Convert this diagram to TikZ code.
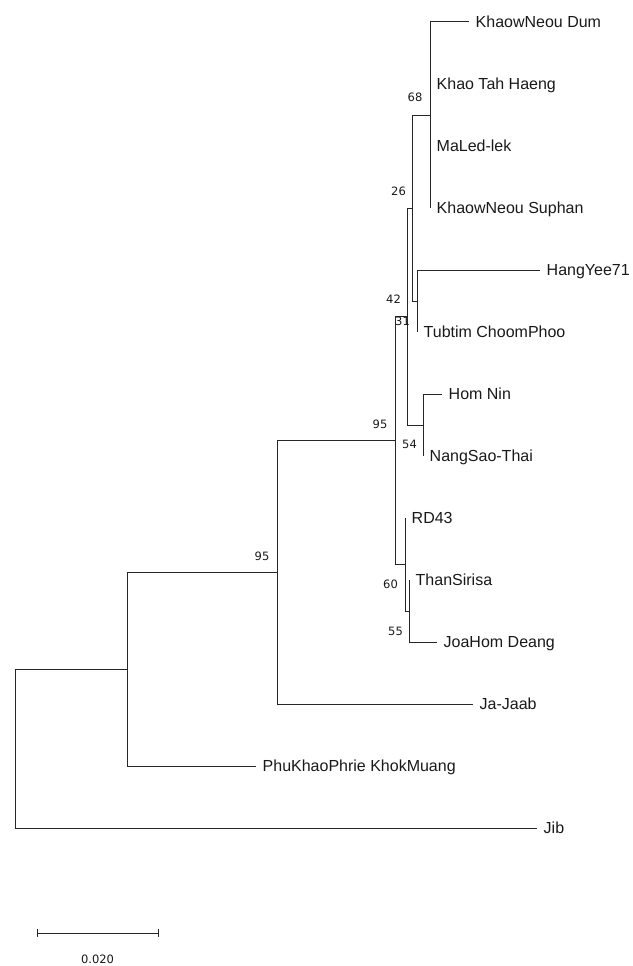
\documentclass[tikz,border=0pt]{standalone}
\usepackage{fontspec}
\setmainfont{Liberation Sans}
\newfontfamily\bootfont{DejaVu Sans}
\begin{document}
\begin{tikzpicture}[x=1pt,y=-1pt,
  branch/.style={draw=black!85,line width=1pt},
  leaf/.style={anchor=base west,inner sep=0pt,xshift=6.5pt,yshift=-5.7pt,font=\fontsize{16}{18}\selectfont,text=black!90},
  boot/.style={anchor=center,inner sep=0pt,font=\bootfont\fontsize{11.5}{13}\selectfont,text=black!90}]
\useasboundingbox (0,0) rectangle (632,966);
% internal nodes
\coordinate (root) at (15,748.5);
\coordinate (nP) at (127,669);
\coordinate (n95b) at (277,572.25);
\coordinate (n95a) at (395,440.5);
\coordinate (n31) at (407,316.5);
\coordinate (n26) at (412,208);
\coordinate (n68) at (430,115);
\coordinate (nHT) at (417,301);
\coordinate (n54) at (423,425);
\coordinate (n60) at (405,564.5);
\coordinate (n55) at (409,611);
% leaf tips
\coordinate (t1) at (469,22);
\coordinate (t2) at (430,84);
\coordinate (t3) at (430,146);
\coordinate (t4) at (430,208);
\coordinate (t5) at (540,270);
\coordinate (t6) at (417,332);
\coordinate (t7) at (442,394);
\coordinate (t8) at (423,456);
\coordinate (t9) at (405,518);
\coordinate (t10) at (409,580);
\coordinate (t11) at (437,642);
\coordinate (t12) at (473,704);
\coordinate (t13) at (256,766);
\coordinate (t14) at (537,828);
% branches
\draw[branch] (root) |- (nP);
\draw[branch] (root) |- (t14);
\draw[branch] (nP) |- (n95b);
\draw[branch] (nP) |- (t13);
\draw[branch] (n95b) |- (n95a);
\draw[branch] (n95b) |- (t12);
\draw[branch] (n95a) |- (n31);
\draw[branch] (n95a) |- (n60);
\draw[branch] (n31) |- (n26);
\draw[branch] (n31) |- (n54);
\draw[branch] (n26) |- (n68);
\draw[branch] (n26) |- (nHT);
\draw[branch] (n68) |- (t1);
\draw[branch] (n68) |- (t2);
\draw[branch] (n68) |- (t3);
\draw[branch] (n68) |- (t4);
\draw[branch] (nHT) |- (t5);
\draw[branch] (nHT) |- (t6);
\draw[branch] (n54) |- (t7);
\draw[branch] (n54) |- (t8);
\draw[branch] (n60) |- (t9);
\draw[branch] (n60) |- (n55);
\draw[branch] (n55) |- (t10);
\draw[branch] (n55) |- (t11);
% leaf labels
\node[leaf] (l1) at (t1) {KhaowNeou Dum};
\node[leaf] (l2) at (t2) {Khao Tah Haeng};
\node[leaf] (l3) at (t3) {MaLed-lek};
\node[leaf] (l4) at (t4) {KhaowNeou Suphan};
\node[leaf] (l5) at (t5) {HangYee71};
\node[leaf] (l6) at (t6) {Tubtim ChoomPhoo};
\node[leaf] (l7) at (t7) {Hom Nin};
\node[leaf] (l8) at (t8) {NangSao-Thai};
\node[leaf] (l9) at (t9) {RD43};
\node[leaf] (l10) at (t10) {ThanSirisa};
\node[leaf] (l11) at (t11) {JoaHom Deang};
\node[leaf] (l12) at (t12) {Ja-Jaab};
\node[leaf] (l13) at (t13) {PhuKhaoPhrie KhokMuang};
\node[leaf] (l14) at (t14) {Jib};
% bootstrap values
\node[boot] (b68) at (415,97.5) {68};
\node[boot] (b26) at (398.5,191.5) {26};
\node[boot] (b42) at (393.5,299) {42};
\node[boot] (b31) at (402.5,321) {31};
\node[boot] (b95a) at (380,424) {95};
\node[boot] (b54) at (409.5,444.5) {54};
\node[boot] (b60) at (390.5,584.5) {60};
\node[boot] (b55) at (395.5,631.5) {55};
\node[boot] (b95b) at (262,556.5) {95};
% scale bar
\coordinate (s1) at (37,933);
\coordinate (s2) at (158,933);
\draw[branch] (s1) -- (s2);
\draw[branch] ([yshift=4pt]s1) -- ([yshift=-4pt]s1);
\draw[branch] ([yshift=4pt]s2) -- ([yshift=-4pt]s2);
\node[boot] (sl) at (97.5,959.5) {0.020};
\end{tikzpicture}
\end{document}
